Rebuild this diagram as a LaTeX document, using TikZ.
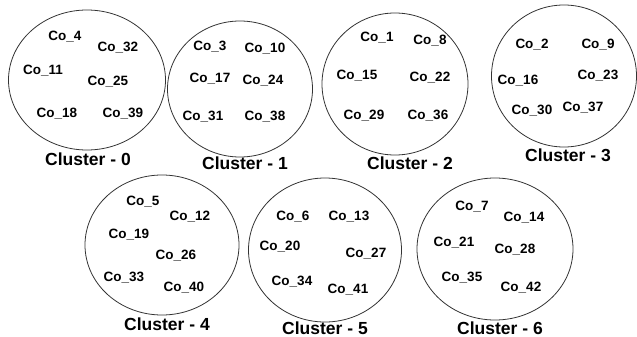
\documentclass[tikz,border=0pt]{standalone}
\usepackage{fontspec}
\setmainfont{Liberation Sans}
\usetikzlibrary{shapes.geometric}
\begin{document}
\begin{tikzpicture}[x=1pt,y=-1pt,
  cluster/.style={draw=black!80,line width=0.8pt,ellipse,inner sep=0pt},
  member/.style={font=\bfseries\fontsize{13.5}{15}\selectfont,inner sep=0pt},
  caption/.style={font=\bfseries\fontsize{17.5}{19}\selectfont,inner sep=0pt}]
\useasboundingbox (0,0) rectangle (637,337);

% cluster outlines
\node[cluster,minimum width=157pt,minimum height=140pt] (c0) at (87,80) {};
\node[cluster,minimum width=145pt,minimum height=136pt] (c1) at (240,89) {};
\node[cluster,minimum width=146pt,minimum height=142pt] (c2) at (395,84) {};
\node[cluster,minimum width=145pt,minimum height=142pt] (c3) at (564,76) {};
\node[cluster,minimum width=154pt,minimum height=140pt] (c4) at (162,245) {};
\node[cluster,minimum width=153pt,minimum height=144pt] (c5) at (325,250) {};
\node[cluster,minimum width=156pt,minimum height=142pt] (c6) at (495,249) {};

% captions
\node[caption] (l0) at (88,159) {Cluster - 0};
\node[caption] (l1) at (245,163) {Cluster - 1};
\node[caption] (l2) at (410,163) {Cluster - 2};
\node[caption] (l3) at (568,155) {Cluster - 3};
\node[caption] (l4) at (167,324) {Cluster - 4};
\node[caption] (l5) at (325,328) {Cluster - 5};
\node[caption] (l6) at (500,328) {Cluster - 6};

% Cluster 0
\node[member] (m4)  at (65,37)  {Co\_4};
\node[member] (m32) at (118,48) {Co\_32};
\node[member] (m11) at (43,71)  {Co\_11};
\node[member] (m25) at (108,82) {Co\_25};
\node[member] (m18) at (57,114) {Co\_18};
\node[member] (m39) at (123,114) {Co\_39};

% Cluster 1
\node[member] (m3)  at (210,47) {Co\_3};
\node[member] (m10) at (265,49) {Co\_10};
\node[member] (m17) at (210,79) {Co\_17};
\node[member] (m24) at (263,81) {Co\_24};
\node[member] (m31) at (203,117) {Co\_31};
\node[member] (m38) at (265,117) {Co\_38};

% Cluster 2
\node[member] (m1)  at (377,38) {Co\_1};
\node[member] (m8)  at (430,41) {Co\_8};
\node[member] (m15) at (357,76) {Co\_15};
\node[member] (m22) at (430,78) {Co\_22};
\node[member] (m29) at (364,116) {Co\_29};
\node[member] (m36) at (428,116) {Co\_36};

% Cluster 3
\node[member] (m2)  at (532,45) {Co\_2};
\node[member] (m9)  at (598,45) {Co\_9};
\node[member] (m16) at (518,81) {Co\_16};
\node[member] (m23) at (598,76) {Co\_23};
\node[member] (m30) at (532,111) {Co\_30};
\node[member] (m37) at (583,108) {Co\_37};

% Cluster 4
\node[member] (m5)  at (143,202) {Co\_5};
\node[member] (m12) at (190,217) {Co\_12};
\node[member] (m19) at (129,235) {Co\_19};
\node[member] (m26) at (176,256) {Co\_26};
\node[member] (m33) at (124,278) {Co\_33};
\node[member] (m40) at (184,288) {Co\_40};

% Cluster 5
\node[member] (m6)  at (293,217) {Co\_6};
\node[member] (m13) at (349,217) {Co\_13};
\node[member] (m20) at (280,247) {Co\_20};
\node[member] (m27) at (366,254) {Co\_27};
\node[member] (m34) at (292,282) {Co\_34};
\node[member] (m41) at (348,290) {Co\_41};

% Cluster 6
\node[member] (m7)  at (472,207) {Co\_7};
\node[member] (m14) at (524,218) {Co\_14};
\node[member] (m21) at (454,243) {Co\_21};
\node[member] (m28) at (515,250) {Co\_28};
\node[member] (m35) at (462,278) {Co\_35};
\node[member] (m42) at (521,288) {Co\_42};
\end{tikzpicture}
\end{document}
